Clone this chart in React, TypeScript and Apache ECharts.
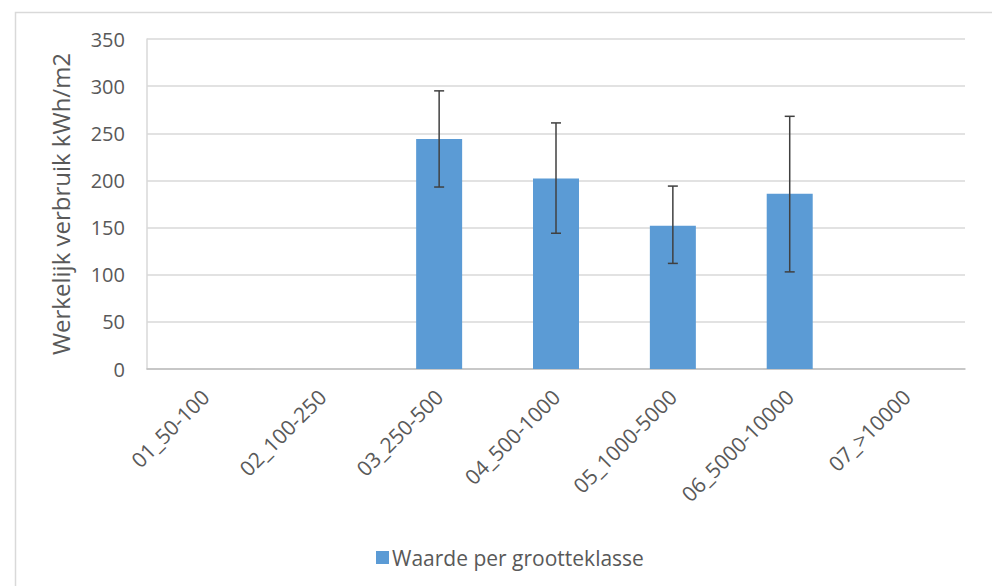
import React, { useEffect, useRef } from "react";
import * as echarts from "echarts";

const categories = [
  "01_50-100",
  "02_100-250",
  "03_250-500",
  "04_500-1000",
  "05_1000-5000",
  "06_5000-10000",
  "07_>10000",
];
const values: (number | null)[] = [null, null, 244, 202, 152, 186, null];
const errLow: (number | null)[] = [null, null, 193, 144, 112, 103, null];
const errHigh: (number | null)[] = [null, null, 295, 261, 194, 268, null];
const yTicks = [0, 50, 100, 150, 200, 250, 300, 350];
const seriesName = "Waarde per grootteklasse";
const yAxisName = "Werkelijk verbruik kWh/m2";

const FONT = "'Open Sans', 'Liberation Sans', sans-serif";

export default function App() {
  const ref = useRef<HTMLDivElement>(null);
  useEffect(() => {
    if (!ref.current) return;
    const chart = echarts.init(ref.current, undefined, { renderer: "svg" });
    const errData = categories.map((c, i) =>
      errLow[i] == null ? [i, null, null] : [i, errLow[i], errHigh[i]]
    );
    chart.setOption({
      animation: false,
      backgroundColor: "#ffffff",
      graphic: [
        {
          type: "rect",
          left: 13,
          top: 10,
          shape: { width: 1000, height: 600 },
          style: { fill: "none", stroke: "#d9d9d9", lineWidth: 1.5 },
          silent: true,
        },
      ],
      grid: { left: 147, right: 27, top: 39, bottom: 217 },
      legend: {
        data: [seriesName],
        left: 371,
        top: 542,
        itemWidth: 13,
        itemHeight: 13,
        itemGap: 4,
        textStyle: { fontFamily: FONT, fontSize: 21, color: "#595959", padding: [0, 0, 0, -2] },
        icon: "rect",
      },
      xAxis: {
        type: "category",
        data: categories,
        axisLine: { show: true, lineStyle: { color: "#bfbfbf", width: 1.5 } },
        axisTick: { show: false },
        axisLabel: {
          rotate: 45,
          interval: 0,
          margin: 24,
          fontFamily: FONT,
          fontSize: 21,
          color: "#595959",
        },
      },
      yAxis: {
        type: "value",
        min: yTicks[0],
        max: yTicks[yTicks.length - 1],
        interval: 50,
        name: yAxisName,
        nameLocation: "middle",
        nameGap: 75,
        nameTextStyle: { fontFamily: FONT, fontSize: 24, color: "#595959" },
        axisLine: { show: true, lineStyle: { color: "#d9d9d9", width: 1.5 } },
        axisTick: { show: false },
        splitLine: { lineStyle: { color: "#d9d9d9", width: 1.5 } },
        axisLabel: {
          margin: 22,
          fontFamily: FONT,
          fontSize: 20,
          color: "#595959",
        },
      },
      series: [
        {
          name: seriesName,
          type: "bar",
          data: values,
          barWidth: 46,
          itemStyle: { color: "#5b9bd5" },
        },
        {
          type: "custom",
          name: "err",
          data: errData,
          z: 10,
          renderItem: (params: any, api: any) => {
            const lo = api.value(1);
            const hi = api.value(2);
            if (lo == null || hi == null || isNaN(lo) || isNaN(hi)) return null;
            const x = api.value(0);
            const pHi = api.coord([x, hi]);
            const pLo = api.coord([x, lo]);
            const hw = 5;
            const style = { stroke: "#404040", lineWidth: 1.5 };
            return {
              type: "group",
              children: [
                { type: "line", shape: { x1: pHi[0], y1: pHi[1], x2: pLo[0], y2: pLo[1] }, style },
                { type: "line", shape: { x1: pHi[0] - hw, y1: pHi[1], x2: pHi[0] + hw, y2: pHi[1] }, style },
                { type: "line", shape: { x1: pLo[0] - hw, y1: pLo[1], x2: pLo[0] + hw, y2: pLo[1] }, style },
              ],
            };
          },
        },
      ],
    });
    return () => chart.dispose();
  }, []);
  return (
    <div
      ref={ref}
      style={{ position: "absolute", left: 0, top: 0, width: 992, height: 586 }}
    />
  );
}
